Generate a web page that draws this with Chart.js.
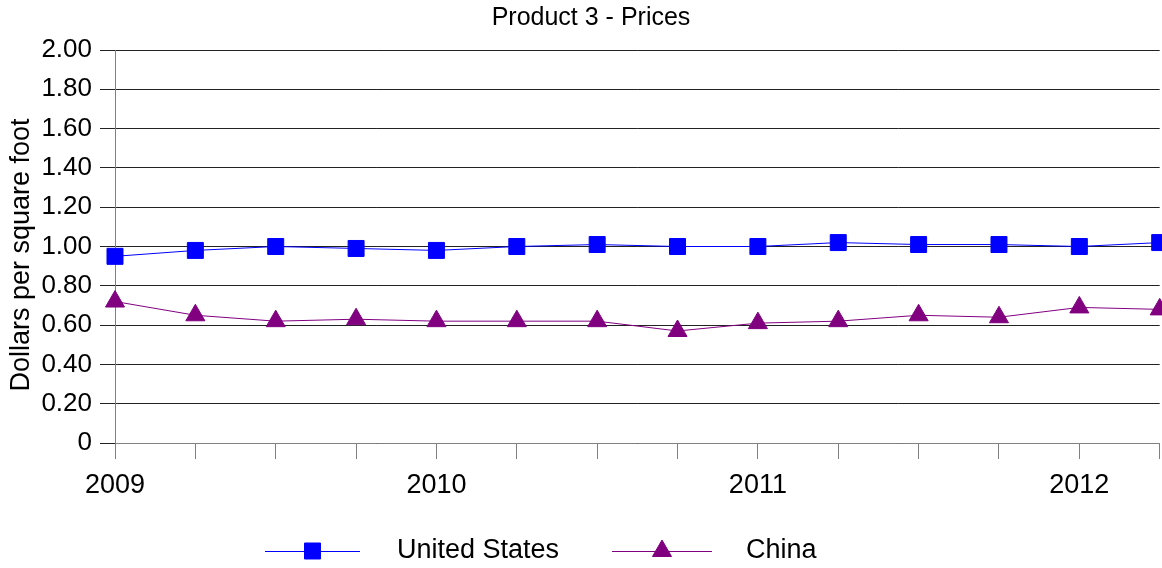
<!DOCTYPE html>
<html>
<head>
<meta charset="utf-8">
<script src="https://cdn.jsdelivr.net/npm/chart.js@4.4.0/dist/chart.umd.min.js"></script>
<style>
html,body{margin:0;padding:0;background:#fff;overflow:hidden;}
#wrap{width:1162px;height:568px;position:relative;overflow:hidden;}
canvas{display:block;}
</style>
</head>
<body>
<div id="wrap"><canvas id="c" width="1172" height="568"></canvas></div>
<script>
const categories = ['2009','','','','2010','','','','2011','','','','2012',''];
const usValues = [0.95,0.98,1.00,0.99,0.98,1.00,1.01,1.00,1.00,1.02,1.01,1.01,1.00,1.02];
const chinaValues = [0.72,0.65,0.62,0.63,0.62,0.62,0.62,0.57,0.61,0.62,0.65,0.64,0.69,0.68];
const seriesNames = ['United States','China'];
const yTicks = [0,0.2,0.4,0.6,0.8,1.0,1.2,1.4,1.6,1.8,2.0];
const chartTitle = 'Product 3 - Prices';
const yAxisTitle = 'Dollars per square foot';

const FONT = "'Liberation Sans', Arial, sans-serif";

const customText = {
  id: 'customText',
  afterDraw(chart) {
    const ctx = chart.ctx;
    ctx.save();
    ctx.fillStyle = '#000';
    ctx.font = '25px ' + FONT;
    ctx.textAlign = 'center';
    ctx.textBaseline = 'middle';
    ctx.fillText(chartTitle, 591, 18);
    ctx.translate(22, 255);
    ctx.rotate(-Math.PI / 2);
    ctx.font = '27px ' + FONT;
    ctx.fillText(yAxisTitle, 0, 0);
    ctx.restore();

    const y = 551;
    const items = [
      {x1: 265, x2: 360, tx: 397},
      {x1: 612, x2: 712, tx: 746}
    ];
    chart.data.datasets.forEach((ds, i) => {
      const it = items[i];
      ctx.save();
      ctx.strokeStyle = ds.borderColor;
      ctx.lineWidth = 1;
      ctx.beginPath();
      ctx.moveTo(it.x1, y + 0.5);
      ctx.lineTo(it.x2, y + 0.5);
      ctx.stroke();
      ctx.fillStyle = ds.pointBackgroundColor;
      ctx.strokeStyle = ds.pointBorderColor;
      Chart.helpers.drawPoint(ctx, {pointStyle: ds.pointStyle, radius: ds.pointRadius, rotation: 0, borderWidth: 1}, (it.x1 + it.x2) / 2, y);
      ctx.fillStyle = '#000';
      ctx.font = '27px ' + FONT;
      ctx.textBaseline = 'middle';
      ctx.textAlign = 'left';
      ctx.fillText(ds.label, it.tx, y);
      ctx.restore();
    });
  }
};

new Chart(document.getElementById('c'), {
  type: 'line',
  data: {
    labels: categories,
    datasets: [
      {
        label: seriesNames[0],
        data: usValues,
        borderColor: '#0000FF',
        backgroundColor: '#0000FF',
        pointBackgroundColor: '#0000FF',
        pointBorderColor: '#0000FF',
        borderWidth: 1,
        pointStyle: 'rect',
        pointRadius: 11.3,
        pointHoverRadius: 11.3,
        tension: 0,
        clip: false
      },
      {
        label: seriesNames[1],
        data: chinaValues,
        borderColor: '#800080',
        backgroundColor: '#800080',
        pointBackgroundColor: '#800080',
        pointBorderColor: '#800080',
        borderWidth: 1,
        pointStyle: 'triangle',
        pointRadius: 11,
        pointHoverRadius: 11,
        tension: 0,
        clip: false
      }
    ]
  },
  options: {
    responsive: false,
    animation: false,
    devicePixelRatio: 1,
    layout: {padding: {left: 0, right: 2, top: 50, bottom: 40}},
    plugins: {
      legend: {display: false},
      tooltip: {enabled: false},
      title: {display: false}
    },
    scales: {
      x: {
        type: 'category',
        offset: false,
        grid: {display: true, drawOnChartArea: false, drawTicks: true, tickLength: 16, color: '#808080'},
        border: {display: true, color: '#808080', width: 1},
        ticks: {
          autoSkip: false, maxRotation: 0, minRotation: 0,
          color: '#000', padding: 0,
          font: {family: FONT, size: 27, lineHeight: 1.94}
        },
        afterFit(scale) { scale.height = 85; scale.paddingLeft = 0; scale.paddingRight = 0; }
      },
      y: {
        min: 0, max: 2,
        afterBuildTicks(scale) { scale.ticks = yTicks.map(v => ({value: v})); },
        grid: {color: '#222', lineWidth: 1, tickLength: 15, drawTicks: true},
        border: {display: true, color: '#808080', width: 1},
        ticks: {
          color: '#000', padding: 8,
          font: {family: FONT, size: 26},
          callback: v => v === 0 ? '0' : v.toFixed(2)
        },
        title: {display: false},
        afterFit(scale) { scale.width = 115; }
      }
    }
  },
  plugins: [customText]
});
</script>
</body>
</html>
